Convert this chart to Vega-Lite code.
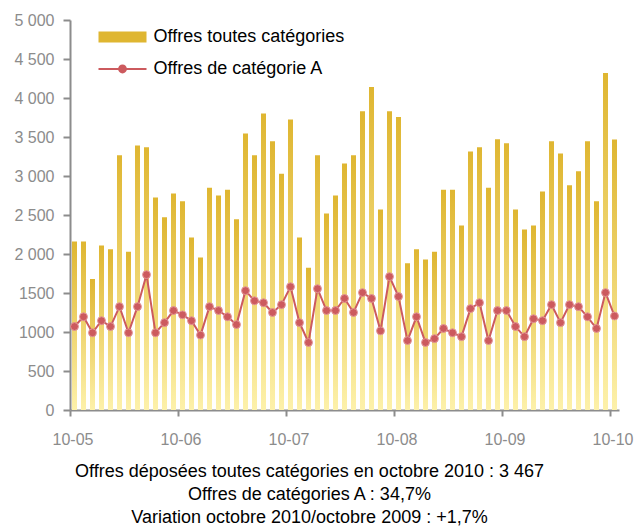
{
  "$schema": "https://vega.github.io/schema/vega-lite/v6.json",
  "autosize": "none",
  "width": 549,
  "height": 390,
  "padding": {"left": 70, "top": 20, "right": 16, "bottom": 117},
  "background": "white",
  "data": {"values": [
    {"mois": "2005-10", "toutes": 2160, "catA": 1070},
    {"mois": "2005-11", "toutes": 2160, "catA": 1195},
    {"mois": "2005-12", "toutes": 1680, "catA": 990},
    {"mois": "2006-01", "toutes": 2110, "catA": 1145},
    {"mois": "2006-02", "toutes": 2060, "catA": 1070},
    {"mois": "2006-03", "toutes": 3265, "catA": 1325},
    {"mois": "2006-04", "toutes": 2030, "catA": 990},
    {"mois": "2006-05", "toutes": 3390, "catA": 1325},
    {"mois": "2006-06", "toutes": 3370, "catA": 1735},
    {"mois": "2006-07", "toutes": 2725, "catA": 990},
    {"mois": "2006-08", "toutes": 2470, "catA": 1120},
    {"mois": "2006-09", "toutes": 2775, "catA": 1275},
    {"mois": "2006-10", "toutes": 2675, "catA": 1220},
    {"mois": "2006-11", "toutes": 2210, "catA": 1145},
    {"mois": "2006-12", "toutes": 1955, "catA": 960},
    {"mois": "2007-01", "toutes": 2850, "catA": 1325},
    {"mois": "2007-02", "toutes": 2750, "catA": 1275},
    {"mois": "2007-03", "toutes": 2825, "catA": 1195},
    {"mois": "2007-04", "toutes": 2445, "catA": 1095},
    {"mois": "2007-05", "toutes": 3545, "catA": 1530},
    {"mois": "2007-06", "toutes": 3265, "catA": 1400},
    {"mois": "2007-07", "toutes": 3800, "catA": 1375},
    {"mois": "2007-08", "toutes": 3445, "catA": 1250},
    {"mois": "2007-09", "toutes": 3030, "catA": 1350},
    {"mois": "2007-10", "toutes": 3725, "catA": 1580},
    {"mois": "2007-11", "toutes": 2210, "catA": 1120},
    {"mois": "2007-12", "toutes": 1825, "catA": 865},
    {"mois": "2008-01", "toutes": 3265, "catA": 1555},
    {"mois": "2008-02", "toutes": 2520, "catA": 1275},
    {"mois": "2008-03", "toutes": 2750, "catA": 1275},
    {"mois": "2008-04", "toutes": 3160, "catA": 1430},
    {"mois": "2008-05", "toutes": 3265, "catA": 1250},
    {"mois": "2008-06", "toutes": 3830, "catA": 1505},
    {"mois": "2008-07", "toutes": 4140, "catA": 1430},
    {"mois": "2008-08", "toutes": 2570, "catA": 1015},
    {"mois": "2008-09", "toutes": 3830, "catA": 1710},
    {"mois": "2008-10", "toutes": 3755, "catA": 1455},
    {"mois": "2008-11", "toutes": 1880, "catA": 890},
    {"mois": "2008-12", "toutes": 2060, "catA": 1195},
    {"mois": "2009-01", "toutes": 1930, "catA": 865},
    {"mois": "2009-02", "toutes": 2030, "catA": 915},
    {"mois": "2009-03", "toutes": 2825, "catA": 1045},
    {"mois": "2009-04", "toutes": 2825, "catA": 990},
    {"mois": "2009-05", "toutes": 2365, "catA": 940},
    {"mois": "2009-06", "toutes": 3315, "catA": 1300},
    {"mois": "2009-07", "toutes": 3370, "catA": 1375},
    {"mois": "2009-08", "toutes": 2850, "catA": 890},
    {"mois": "2009-09", "toutes": 3470, "catA": 1275},
    {"mois": "2009-10", "toutes": 3420, "catA": 1275},
    {"mois": "2009-11", "toutes": 2570, "catA": 1070},
    {"mois": "2009-12", "toutes": 2315, "catA": 940},
    {"mois": "2010-01", "toutes": 2365, "catA": 1170},
    {"mois": "2010-02", "toutes": 2800, "catA": 1145},
    {"mois": "2010-03", "toutes": 3445, "catA": 1350},
    {"mois": "2010-04", "toutes": 3290, "catA": 1120},
    {"mois": "2010-05", "toutes": 2880, "catA": 1350},
    {"mois": "2010-06", "toutes": 3060, "catA": 1325},
    {"mois": "2010-07", "toutes": 3445, "catA": 1195},
    {"mois": "2010-08", "toutes": 2675, "catA": 1045},
    {"mois": "2010-09", "toutes": 4320, "catA": 1505},
    {"mois": "2010-10", "toutes": 3467, "catA": 1205}
  ]},
  "title": {
    "text": ["Offres déposées toutes catégories en octobre 2010 : 3 467", "Offres de catégories A : 34,7%", "Variation octobre 2010/octobre 2009 : +1,7%"],
    "orient": "bottom",
    "anchor": "middle",
    "frame": "group",
    "dx": -35,
    "offset": 16,
    "font": "Liberation Sans",
    "fontSize": 18,
    "fontWeight": "normal",
    "color": "#000000",
    "lineHeight": 23
  },
  "encoding": {
    "x": {
      "field": "mois",
      "type": "ordinal",
      "scale": {"paddingInner": 0.4444, "paddingOuter": 0.2222},
      "axis": {
        "title": null,
        "values": ["2005-10", "2006-10", "2007-10", "2008-10", "2009-10", "2010-10"],
        "labelExpr": "'10-' + substring(datum.value, 2, 4)",
        "bandPosition": 0,
        "tickOffset": -2,
        "labelDx": 5,
        "labelAngle": 0,
        "labelAlign": "center",
        "labelPadding": 15,
        "tickSize": 6,
        "tickWidth": 2,
        "domainWidth": 2,
        "domainColor": "#8C8C8C",
        "tickColor": "#8C8C8C",
        "labelColor": "#8C8C8C",
        "labelFont": "Liberation Sans",
        "labelFontSize": 16,
        "grid": false
      }
    }
  },
  "layer": [
    {
      "mark": {
        "type": "bar",
        "color": {"gradient": "linear", "x1": 0, "y1": 0, "x2": 0, "y2": 1,
          "stops": [{"offset": 0, "color": "#DFB631"}, {"offset": 1, "color": "#FDF1AA"}]}
      },
      "encoding": {
        "y": {
          "field": "toutes",
          "type": "quantitative",
          "scale": {"domain": [0, 5000], "nice": false},
          "axis": {
            "title": null,
            "values": [0, 500, 1000, 1500, 2000, 2500, 3000, 3500, 4000, 4500, 5000],
            "labelExpr": "datum.value >= 2000 ? replace(format(datum.value, ','), ',', ' ') : format(datum.value, 'd')",
            "grid": false,
            "tickSize": 7,
            "tickWidth": 2,
            "domainWidth": 2,
            "domainColor": "#8C8C8C",
            "tickColor": "#8C8C8C",
            "labelColor": "#8C8C8C",
            "labelFont": "Liberation Sans",
            "labelFontSize": 16,
            "labelPadding": 9
          }
        }
      }
    },
    {
      "mark": {
        "type": "line",
        "strokeWidth": 2,
        "point": {"filled": true, "size": 62, "stroke": "#E39597", "strokeWidth": 1}
      },
      "encoding": {
        "y": {
          "field": "catA",
          "type": "quantitative",
          "scale": {"domain": [0, 5000], "nice": false},
          "axis": {
            "title": null,
            "values": [0, 500, 1000, 1500, 2000, 2500, 3000, 3500, 4000, 4500, 5000],
            "labelExpr": "datum.value >= 2000 ? replace(format(datum.value, ','), ',', ' ') : format(datum.value, 'd')",
            "grid": false,
            "tickSize": 7,
            "tickWidth": 2,
            "domainWidth": 2,
            "domainColor": "#8C8C8C",
            "tickColor": "#8C8C8C",
            "labelColor": "#8C8C8C",
            "labelFont": "Liberation Sans",
            "labelFontSize": 16,
            "labelPadding": 9
          }
        },
        "color": {
          "datum": "Offres de catégorie A",
          "scale": {
            "domain": ["Offres toutes catégories", "Offres de catégorie A"],
            "range": ["#DFB631", "#CC5A5E"]
          },
          "legend": {
            "title": null,
            "orient": "none",
            "legendX": 43.5,
            "legendY": 8,
            "direction": "vertical",
            "padding": 0,
            "symbolSize": 256,
            "symbolStrokeWidth": 0,
            "labelOffset": 22,
            "rowPadding": 14,
            "labelFont": "Liberation Sans",
            "labelFontSize": 18,
            "labelColor": "#000000",
            "labelLimit": 0,
            "encode": {
              "symbols": {
                "update": {
                  "shape": [
                    {"test": "datum.value === 'Offres toutes catégories'", "value": "M-3,-0.69H3V0.69H-3Z"},
                    {"value": "M-3,-0.12H3V0.12H-3Z M-0.55,0A0.55,0.55 0 1,1 0.55,0A0.55,0.55 0 1,1 -0.55,0Z"}
                  ],
                  "fill": [
                    {"test": "datum.value === 'Offres toutes catégories'", "value": {"gradient": "linear", "x1": 0, "y1": 0, "x2": 0, "y2": 1,
                      "stops": [{"offset": 0, "color": "#DFB631"}, {"offset": 1, "color": "#FBEBA0"}]}},
                    {"value": "#CC5A5E"}
                  ],
                  "stroke": {"value": "transparent"},
                  "strokeWidth": {"value": 0},
                  "opacity": {"value": 1},
                  "fillOpacity": {"value": 1}
                }
              }
            }
          }
        }
      }
    }
  ],
  "config": {
    "view": {"stroke": null},
    "font": "Liberation Sans"
  }
}
